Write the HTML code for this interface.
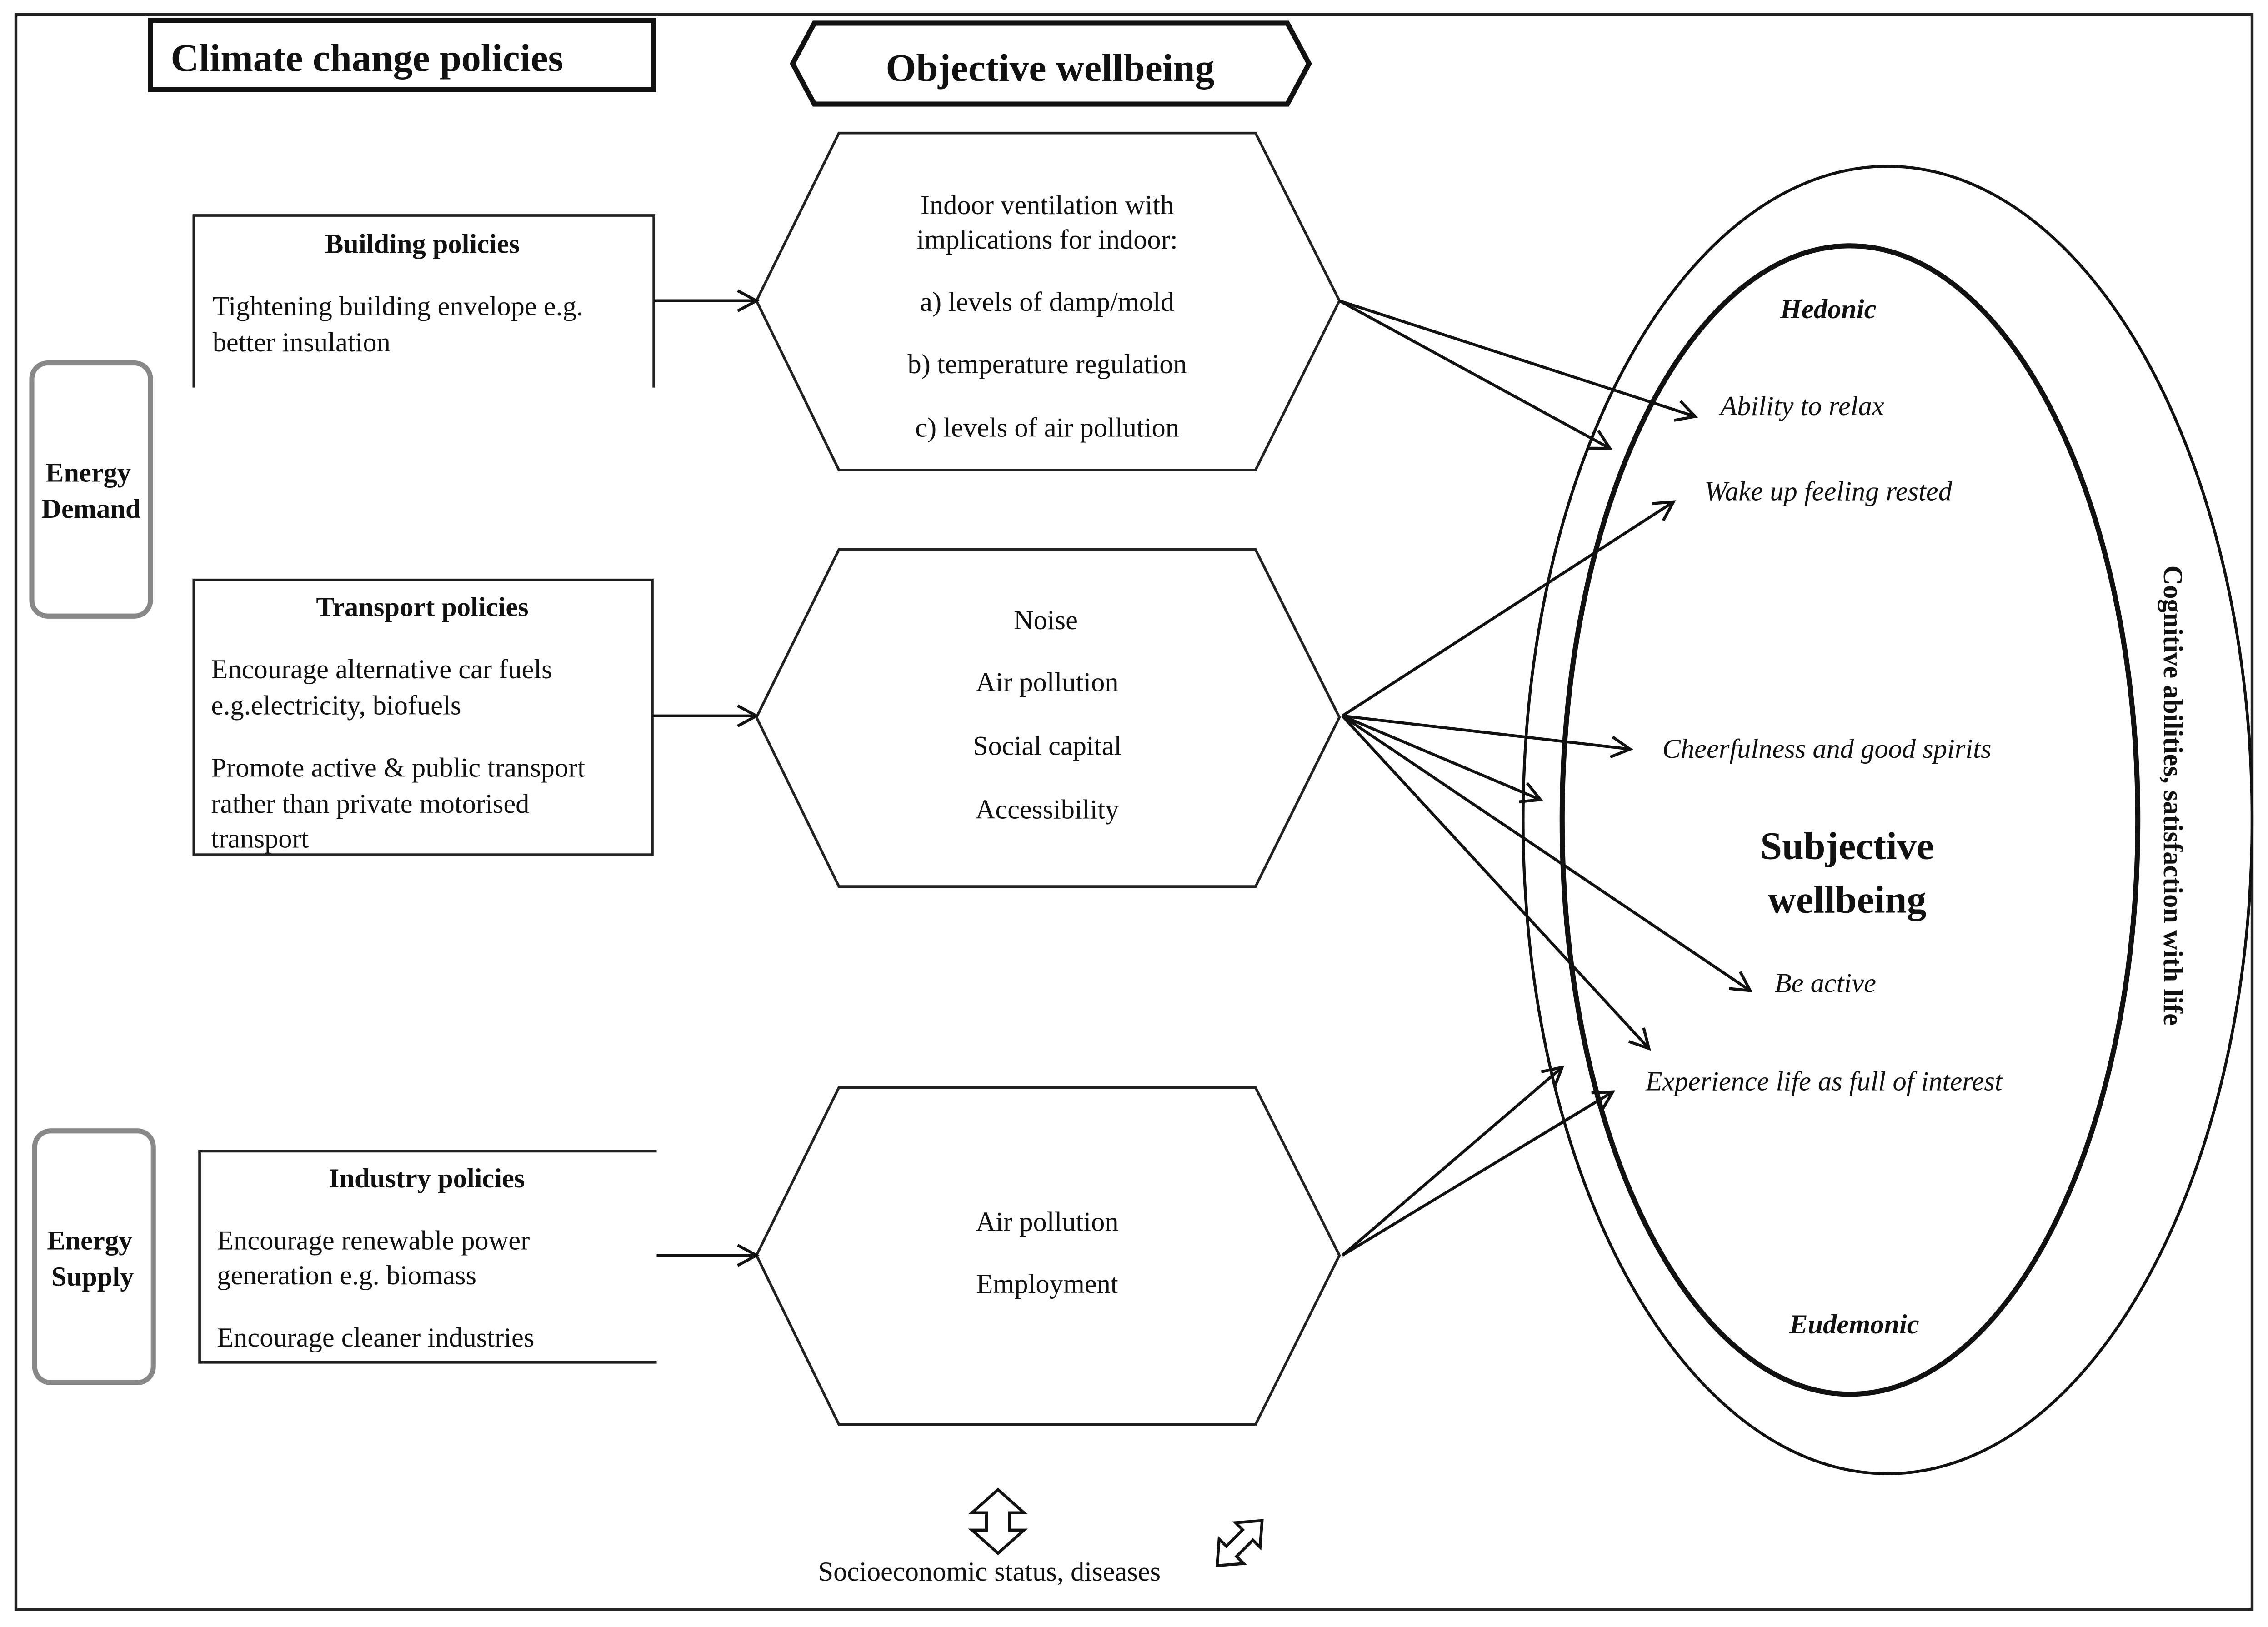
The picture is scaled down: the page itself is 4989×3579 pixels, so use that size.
<!DOCTYPE html>
<html><head><meta charset="utf-8"><style>
html,body{margin:0;padding:0;background:#fff}
svg{display:block}
text{font-family:"Liberation Serif",serif;fill:#111}
.b{font-weight:bold}
.i{font-style:italic}
</style></head><body>
<svg width="4989" height="3579" viewBox="0 0 1568 1125" preserveAspectRatio="none" xmlns="http://www.w3.org/2000/svg">
<defs>
<marker id="a" markerWidth="16" markerHeight="16" refX="14" refY="8" orient="auto" markerUnits="userSpaceOnUse">
<polyline points="1,1 14,8 1,15" fill="none" stroke="#111" stroke-width="2"/>
</marker>
</defs>
<rect x="0" y="0" width="1568" height="1125" fill="#fff"/>
<rect x="11" y="10" width="1546" height="1103" fill="none" stroke="#222" stroke-width="2"/>

<rect x="104" y="14" width="348" height="48" fill="none" stroke="#111" stroke-width="3.5"/>
<text x="118" y="49" class="b" font-size="27">Climate change policies</text>

<polygon points="548,44 563,16 890,16 905,44 890,72 563,72" fill="none" stroke="#111" stroke-width="3.5"/>
<text x="726" y="56" class="b" font-size="27" text-anchor="middle">Objective wellbeing</text>

<g fill="none" stroke="#222" stroke-width="1.8">
<polygon points="523,208 580,92 868,92 926,208 868,325 580,325"/>
<polygon points="523,496 580,380 868,380 926,496 868,613 580,613"/>
<polygon points="523,868 580,752 868,752 926,868 868,985 580,985"/>
<polyline points="134,268 134,149 452,149 452,268"/>
<rect x="134" y="401" width="317" height="190"/>
<polyline points="454,796 138,796 138,942 454,942"/>
</g>
<g stroke="#888" stroke-width="3.5" fill="none">
<rect x="22" y="251" width="82" height="175" rx="11"/>
<rect x="24" y="782" width="82" height="174" rx="11"/>
</g>
<text x="61" y="333" class="b" font-size="19" text-anchor="middle">Energy</text>
<text x="63" y="358" class="b" font-size="19" text-anchor="middle">Demand</text>
<text x="62" y="864" class="b" font-size="19" text-anchor="middle">Energy</text>
<text x="64" y="889" class="b" font-size="19" text-anchor="middle">Supply</text>

<g font-size="19">
<text x="292" y="175" class="b" text-anchor="middle">Building policies</text>
<text x="147" y="218">Tightening building envelope e.g.</text>
<text x="147" y="243">better insulation</text>
<text x="292" y="426" class="b" text-anchor="middle">Transport policies</text>
<text x="146" y="469">Encourage alternative car fuels</text>
<text x="146" y="494">e.g.electricity, biofuels</text>
<text x="146" y="537">Promote active  &amp; public transport</text>
<text x="146" y="562">rather than private motorised</text>
<text x="146" y="586">transport</text>
<text x="295" y="821" class="b" text-anchor="middle">Industry policies</text>
<text x="150" y="864">Encourage renewable power</text>
<text x="150" y="888">generation e.g. biomass</text>
<text x="150" y="931">Encourage cleaner industries</text>

<g text-anchor="middle">
<text x="724" y="148">Indoor ventilation with</text>
<text x="724" y="172">implications for  indoor:</text>
<text x="724" y="215">a) levels of damp/mold</text>
<text x="724" y="258">b) temperature regulation</text>
<text x="724" y="302">c) levels of air pollution</text>
<text x="723" y="435">Noise</text>
<text x="724" y="478">Air pollution</text>
<text x="724" y="522">Social capital</text>
<text x="724" y="566">Accessibility</text>
<text x="724" y="851">Air pollution</text>
<text x="724" y="894">Employment</text>
<text x="684" y="1093">Socioeconomic status, diseases</text>
</g>
</g>

<g stroke="#111" stroke-width="2" fill="none" marker-end="url(#a)">
<line x1="452" y1="208" x2="523" y2="208"/>
<line x1="451" y1="495" x2="523" y2="495"/>
<line x1="454" y1="868" x2="523" y2="868"/>
<line x1="926" y1="208" x2="1172" y2="288"/>
<line x1="926" y1="208" x2="1113" y2="310"/>
<line x1="928" y1="495" x2="1157" y2="347"/>
<line x1="928" y1="495" x2="1127" y2="518"/>
<line x1="928" y1="495" x2="1065" y2="553"/>
<line x1="928" y1="495" x2="1210" y2="685"/>
<line x1="928" y1="495" x2="1140" y2="725"/>
<line x1="928" y1="868" x2="1080" y2="738"/>
<line x1="928" y1="868" x2="1115" y2="755"/>
</g>

<ellipse cx="1305" cy="567" rx="252" ry="452" fill="none" stroke="#111" stroke-width="2"/>
<ellipse cx="1279" cy="567" rx="199" ry="397" fill="none" stroke="#111" stroke-width="3.5"/>

<g font-size="19" text-anchor="middle">
<text x="1264" y="220" class="b i">Hedonic</text>
<text x="1246" y="287" class="i">Ability to relax</text>
<text x="1264" y="346" class="i">Wake up feeling rested</text>
<text x="1263" y="524" class="i">Cheerfulness and good spirits</text>
<text x="1262" y="686" class="i">Be active</text>
<text x="1261" y="754" class="i">Experience life as full of interest</text>
<text x="1282" y="922" class="b i">Eudemonic</text>
<text x="1277" y="594" class="b" font-size="27">Subjective</text>
<text x="1277" y="631" class="b" font-size="27">wellbeing</text>
<text transform="translate(1496,550) rotate(90)" class="b" font-size="19">Cognitive abilities, satisfaction with life</text>
</g>

<polygon points="690,1030 708,1046 698,1046 698,1058 708,1058 690,1074 672,1058 682,1058 682,1046 672,1046" fill="#fff" stroke="#111" stroke-width="2"/>
<g transform="translate(857,1067) rotate(-45)">
<polygon points="-22,0 -8,-12 -8,-5 8,-5 8,-12 22,0 8,12 8,5 -8,5 -8,12" fill="#fff" stroke="#111" stroke-width="2"/>
</g>
</svg>
</body></html>
